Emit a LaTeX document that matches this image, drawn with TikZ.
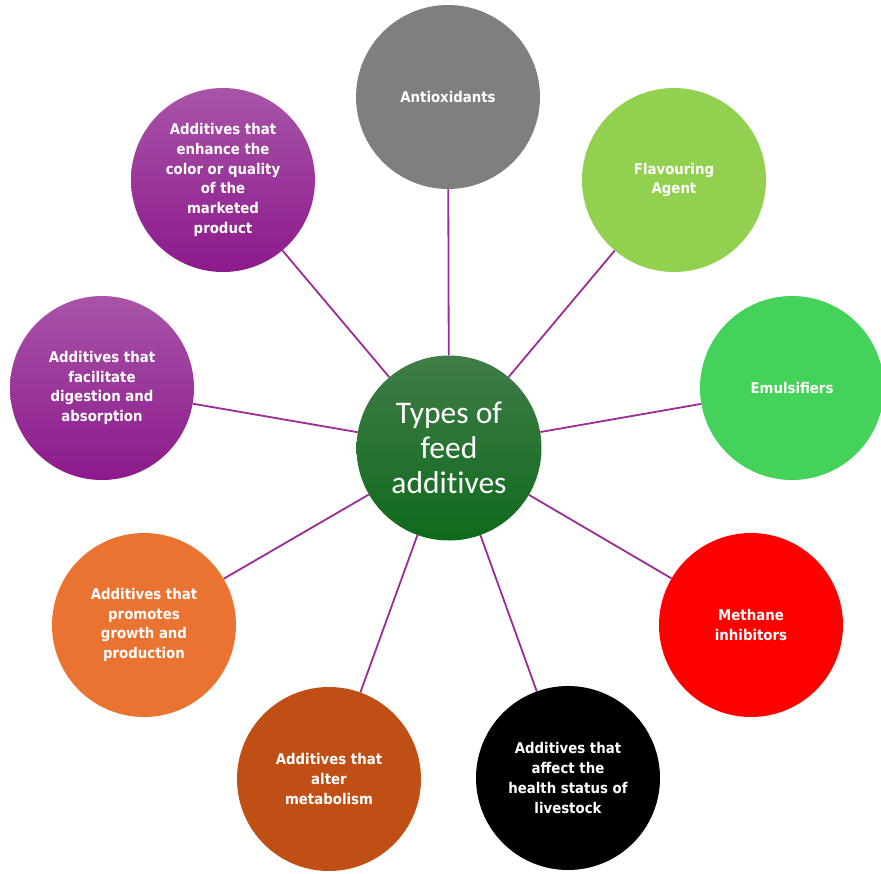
\documentclass[tikz,border=0pt]{standalone}
\usepackage{fontspec}
\setmainfont{DejaVu Sans Condensed}
\newfontfamily\hubfont[Ligatures=NoCommon]{Carlito}
\usepackage{xcolor}
\usetikzlibrary{positioning}
\definecolor{Spoke}{HTML}{9B2C93}
\definecolor{Grey}{HTML}{7F7F7F}
\definecolor{Lime}{HTML}{92D050}
\definecolor{Leaf}{HTML}{45D25B}
\definecolor{Rust}{HTML}{C04F15}
\definecolor{Amber}{HTML}{EB7332}
\definecolor{PurpleTop}{HTML}{A854A8}
\definecolor{PurpleBot}{HTML}{8C198C}
\definecolor{HubTop}{HTML}{407C49}
\definecolor{HubBot}{HTML}{0F6A1B}

\begin{document}
\begin{tikzpicture}[x=1pt,y=-1pt,
    kind/.style={circle,minimum size=184pt,inner sep=0pt,align=center,text=white,
      font=\fontsize{14.8}{19.8}\selectfont\bfseries},
    violet/.style={kind,top color=PurpleTop,bottom color=PurpleBot},
    spoke/.style={draw=Spoke,line width=1.8pt}]
  \useasboundingbox (0,0) rectangle (881,873);
  \node[circle,minimum size=185pt,inner sep=0pt,align=center,text=white,
    top color=HubTop,bottom color=HubBot,font=\hubfont\fontsize{31.5}{35}\selectfont] (hub) at (449,448)
    {Types of\\feed\\additives};
  \node[kind,fill=Grey] (anti) at (448,97) {Antioxidants};
  \node[kind,fill=Lime] (flav) at (674,180) {Flavouring\\Agent};
  \node[kind,fill=Leaf] (emul) at (792,388) {Emulsifiers};
  \node[kind,fill=red] (meth) at (751,625) {Methane\\inhibitors};
  \node[kind,fill=black] (health) at (568,778) {Additives that\\affect the\\health status of\\livestock};
  \node[kind,fill=Rust] (meta) at (329,779) {Additives that\\alter\\metabolism};
  \node[kind,fill=Amber] (grow) at (144,625) {Additives that\\promotes\\growth and\\production};
  \node[violet] (dige) at (102,388) {Additives that\\facilitate\\digestion and\\absorption};
  \node[violet] (qual) at (223,180) {Additives that\\enhance the\\color or quality\\of the\\marketed\\product};
  % spokes from the hub
  \foreach \leafnode in {anti,flav,emul,meth,health,meta,grow,dige,qual}
    \draw[spoke] (hub) -- (\leafnode);
\end{tikzpicture}
\end{document}
